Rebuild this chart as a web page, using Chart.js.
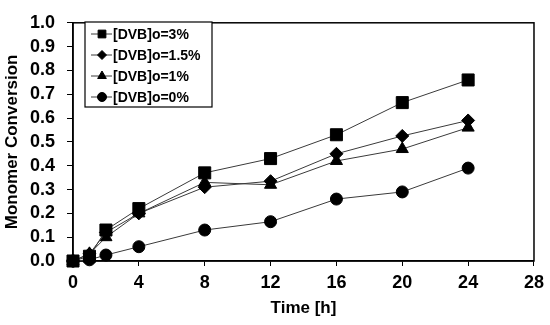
<!DOCTYPE html>
<html>
<head>
<meta charset="utf-8">
<script src="https://cdn.jsdelivr.net/npm/chart.js@4/dist/chart.umd.min.js"></script>
<style>
html,body{margin:0;padding:0;background:#fff;}
#wrap{width:550px;height:325px;position:relative;}
</style>
</head>
<body>
<div id="wrap"><canvas id="c" width="550" height="325"></canvas></div>
<script>
const times = [0, 1, 2, 4, 8, 12, 16, 20, 24];
const dvb3  = [0, 0.02, 0.13, 0.22, 0.37, 0.43, 0.53, 0.665, 0.76];
const dvb15 = [0, 0.03, 0.12, 0.20, 0.31, 0.335, 0.45, 0.525, 0.59];
const dvb1  = [0, 0.03, 0.10, 0.20, 0.33, 0.32, 0.42, 0.47, 0.56];
const dvb0  = [0, 0.005, 0.025, 0.06, 0.13, 0.165, 0.26, 0.29, 0.39];
const seriesLabels = ['[DVB]o=3%', '[DVB]o=1.5%', '[DVB]o=1%', '[DVB]o=0%'];
const xTitle = 'Time [h]';
const yTitle = 'Monomer Conversion';

const FONT = '"Liberation Sans", Arial, sans-serif';

function pts(vals){ return times.map((t,i)=>({x:t, y:vals[i]})); }
function ds(label, vals, style, r){
  return {label, data: pts(vals), showLine:true, clip:false, borderColor:'#3a3a3a', borderWidth:1,
    pointStyle: style, pointRadius: r, pointHoverRadius: r,
    pointBackgroundColor:'#000', pointBorderColor:'#000', pointBorderWidth:1};
}

const frame = {
  id:'frame',
  beforeDatasetsDraw(chart){
    const {ctx, chartArea:a} = chart;
    ctx.save();
    ctx.strokeStyle='#000'; ctx.lineWidth=1.5;
    ctx.strokeRect(a.left, a.top, a.right-a.left, a.bottom-a.top);
    ctx.restore();
  }
};

const boxLegend = {
  id:'boxLegend',
  afterDraw(chart){
    const ctx = chart.ctx;
    const x0 = 85, y0 = 22, w = 127, h = 85;
    ctx.save();
    ctx.fillStyle='#fff';
    ctx.fillRect(x0,y0,w,h);
    ctx.strokeStyle='#000'; ctx.lineWidth=1.2;
    ctx.strokeRect(x0,y0,w,h);
    const rowH = 21;
    chart.data.datasets.forEach((d,i)=>{
      const cy = 34 + i*rowH;
      ctx.strokeStyle='#3a3a3a'; ctx.lineWidth=1;
      ctx.beginPath(); ctx.moveTo(91,cy); ctx.lineTo(112,cy); ctx.stroke();
      ctx.fillStyle='#000'; ctx.strokeStyle='#000';
      const r = {rect:5.5, rectRot:4.5, triangle:5, circle:4.5}[d.pointStyle] || 4.5;
      Chart.helpers.drawPoint(ctx, {pointStyle:d.pointStyle, radius:r, borderWidth:1}, 102, cy);
      ctx.fillStyle='#000';
      ctx.font = 'bold 14px ' + FONT;
      ctx.textBaseline='middle'; ctx.textAlign='left';
      ctx.fillText(d.label, 113, cy+1);
    });
    ctx.restore();
  }
};

new Chart(document.getElementById('c'), {
  type:'scatter',
  data:{ datasets:[
    ds(seriesLabels[0], dvb3, 'rect', 8.5),
    ds(seriesLabels[1], dvb15, 'rectRot', 6.5),
    ds(seriesLabels[2], dvb1, 'triangle', 7),
    ds(seriesLabels[3], dvb0, 'circle', 6)
  ]},
  options:{
    responsive:false, animation:false,
    layout:{padding:{top:14, right:14, left:0, bottom:0}},
    plugins:{legend:{display:false}, tooltip:{enabled:false}},
    scales:{
      x:{type:'linear', min:0, max:28,
        afterFit(s){ s.height = 64; },
        ticks:{stepSize:4, autoSkip:false, maxRotation:0, color:'#000', padding:6, font:{family:FONT, size:18, weight:'bold'}},
        grid:{drawOnChartArea:false, drawTicks:true, tickLength:5, color:'#000'},
        border:{display:true, color:'#000', width:1.5},
        title:{display:true, text:xTitle, color:'#000', padding:{top:0,bottom:6}, font:{family:FONT, size:17, weight:'bold'}}
      },
      y:{min:0, max:1,
        afterFit(s){ s.width = 73; },
        ticks:{stepSize:0.1, autoSkip:false, color:'#000', padding:12, font:{family:FONT, size:18, weight:'bold'},
          callback:(v)=>Number(v).toFixed(1)},
        grid:{drawOnChartArea:false, drawTicks:true, tickLength:6, color:'#000'},
        border:{display:true, color:'#000', width:1.5},
        title:{display:true, text:yTitle, color:'#000', padding:{top:2,bottom:0}, font:{family:FONT, size:17, weight:'bold'}}
      }
    }
  },
  plugins:[frame, boxLegend]
});
</script>
</body>
</html>
